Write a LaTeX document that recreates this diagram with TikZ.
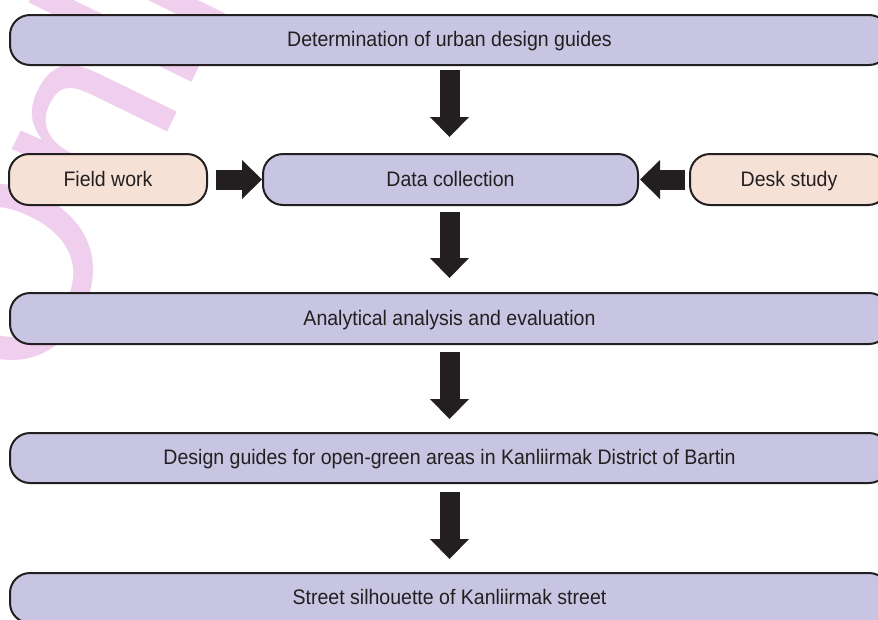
\documentclass[tikz,border=0pt]{standalone}
\usepackage{fontspec}
\setmainfont{Liberation Sans}[FakeStretch=0.93]
\newfontfamily\wmfont{Liberation Sans}
\usetikzlibrary{arrows.meta,calc}
\definecolor{boxfill}{RGB}{199,197,226}
\definecolor{sidefill}{RGB}{246,225,215}
\definecolor{ink}{RGB}{35,31,32}
\definecolor{wmpink}{RGB}{239,207,237}
\tikzset{
  basebox/.style={draw=ink, line width=2pt, rounded corners=20pt, outer sep=0pt,
    inner sep=0pt, text=ink, font=\fontsize{21}{24}\selectfont,
    text height=15.5pt, text depth=2.5pt, minimum height=50pt},
  mainbox/.style={basebox, fill=boxfill},
  sidebox/.style={basebox, fill=sidefill},
  blockarrow/.style={draw=ink, line width=20pt,
    -{Triangle[width=39pt,length=20pt,line width=0pt]}}
}
\begin{document}
\begin{tikzpicture}[x=1pt,y=1pt]
\useasboundingbox (0,0) rectangle (878,-619);
\clip (0,0) rectangle (878,-619);
\fill[white] (0,0) rectangle (878,-619);
% watermark
\node[anchor=base west, rotate=64, inner sep=0pt, text=wmpink,
  font=\wmfont\fontsize{250}{255}\selectfont] (wm) at (38.1,-397.9) {Online};
% boxes
\node[mainbox, minimum width=879pt] (top) at (449.5,-40) {Determination of urban design guides};
\node[sidebox, minimum width=198pt, minimum height=51pt] (field) at (108,-179.5) {Field work};
\node[mainbox, minimum width=375pt, minimum height=51pt] (data) at (450.5,-179.5) {Data collection};
\node[sidebox, minimum width=198pt, minimum height=51pt] (desk) at (789,-179.5) {Desk study};
\node[mainbox, minimum width=879pt, minimum height=51pt] (anal) at (449.5,-318.5) {Analytical analysis and evaluation};
\node[mainbox, minimum width=879pt] (guide) at (449.5,-458) {Design guides for open-green areas in Kanliirmak District of Bartin};
\node[mainbox, minimum width=879pt] (street) at (449.5,-598) {Street silhouette of Kanliirmak street};
% arrows
\draw[blockarrow, shorten <=5pt, shorten >=17pt] (top.south) -- (top.south |- data.north);
\draw[blockarrow, shorten <=1pt, shorten >=1pt] ($(field.east)+(8,0)$) -- (data.west);
\draw[blockarrow, shorten <=1pt, shorten >=2pt] ($(desk.west)+(-4,0)$) -- (data.east);
\draw[blockarrow, shorten <=7pt, shorten >=15pt] (top.south |- data.south) -- (anal.north);
\draw[blockarrow, shorten <=8pt, shorten >=14pt] (anal.south) -- (guide.north);
\draw[blockarrow, shorten <=9pt, shorten >=14pt] (guide.south) -- (street.north);
\end{tikzpicture}
\end{document}
